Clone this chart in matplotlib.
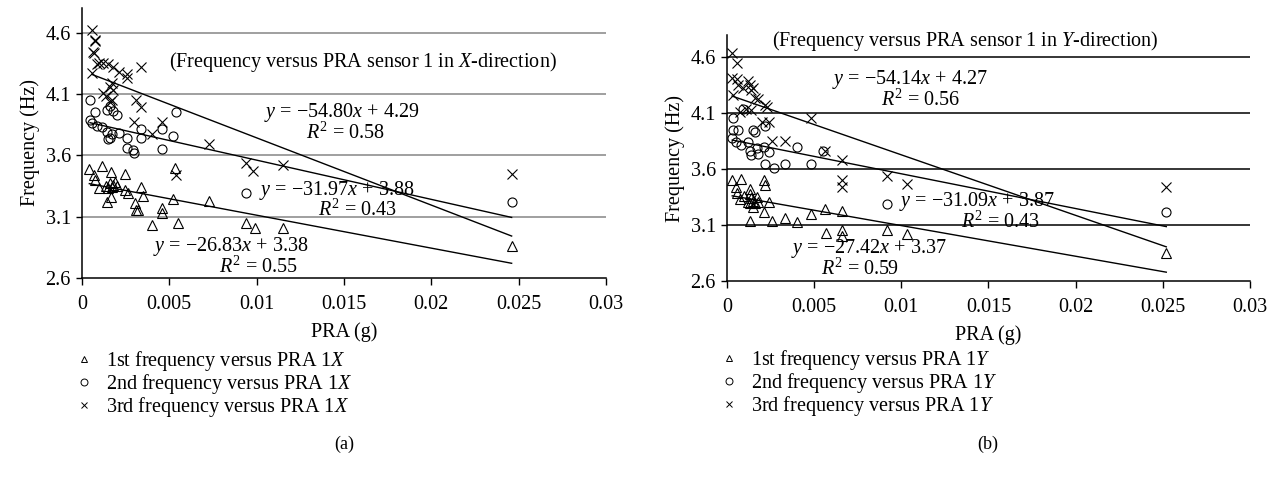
import matplotlib
matplotlib.use("Agg")
import matplotlib.pyplot as plt
from matplotlib.lines import Line2D

plt.rcParams['font.family'] = ['Liberation Serif', 'DejaVu Serif']
plt.rcParams['mathtext.fontset'] = 'custom'
plt.rcParams['mathtext.rm'] = 'Liberation Serif'
plt.rcParams['mathtext.it'] = 'Liberation Serif:italic'
plt.rcParams['font.size'] = 14

# --- (a) PRA sensor 1, X-direction ---
x1a = [0.00042, 0.00115, 0.00067, 0.00076, 0.00095, 0.00168, 0.0014, 0.0015, 0.0016, 0.0017,
       0.0018, 0.0019, 0.002, 0.00143, 0.00168, 0.00248, 0.00248, 0.00263, 0.00305, 0.0031,
       0.0032, 0.0034, 0.0035, 0.0040, 0.0046, 0.0046, 0.0053, 0.0052, 0.0055, 0.0073,
       0.0094, 0.0099, 0.0115, 0.0246]
y1a = [3.49, 3.51, 3.44, 3.40, 3.33, 3.46, 3.35, 3.33, 3.37, 3.34,
       3.36, 3.38, 3.35, 3.22, 3.26, 3.45, 3.32, 3.29, 3.21, 3.15,
       3.15, 3.34, 3.27, 3.03, 3.17, 3.13, 3.50, 3.24, 3.05, 3.23,
       3.05, 3.01, 3.01, 2.86]
x2a = [0.00046, 0.00074, 0.00046, 0.00057, 0.00086, 0.00115, 0.00143, 0.00172, 0.0016, 0.0015,
       0.00143, 0.0016, 0.0018, 0.002, 0.0021, 0.0026, 0.0026, 0.0029, 0.003, 0.0034,
       0.0034, 0.0046, 0.0046, 0.0052, 0.0054, 0.0094, 0.0246]
y2a = [4.05, 3.95, 3.89, 3.86, 3.84, 3.83, 3.79, 3.77, 3.74, 3.73,
       3.97, 4.00, 3.96, 3.93, 3.78, 3.74, 3.66, 3.64, 3.62, 3.81,
       3.74, 3.81, 3.65, 3.76, 3.95, 3.29, 3.22]
x3a = [0.00057, 0.00074, 0.00074, 0.00063, 0.00068, 0.00057, 0.00086, 0.001, 0.0012, 0.0015,
       0.0018, 0.0021, 0.0026, 0.0026, 0.0034, 0.0017, 0.0016, 0.0018, 0.0012, 0.0014,
       0.0017, 0.0016, 0.0031, 0.0034, 0.003, 0.004, 0.0046, 0.0054, 0.0073, 0.0094,
       0.0098, 0.0115, 0.0246]
y3a = [4.62, 4.54, 4.53, 4.44, 4.43, 4.27, 4.34, 4.35, 4.35, 4.34,
       4.32, 4.28, 4.26, 4.23, 4.32, 4.19, 4.16, 4.13, 4.11, 4.08,
       4.05, 4.03, 4.05, 3.99, 3.87, 3.77, 3.87, 3.44, 3.69, 3.54,
       3.47, 3.52, 3.45]
fit_a = [(-26.83, 3.38, 0.55), (-31.97, 3.88, 0.43), (-54.80, 4.29, 0.58)]

# --- (b) PRA sensor 1, Y-direction ---
x1b = [0.0003, 0.0008, 0.0005, 0.0006, 0.00075, 0.001, 0.0012, 0.0013, 0.0014, 0.0015,
       0.0016, 0.0017, 0.0018, 0.0013, 0.0013, 0.0015, 0.0021, 0.0022, 0.0021, 0.0024,
       0.0013, 0.0026, 0.0033, 0.004, 0.0048, 0.0056, 0.0066, 0.0057, 0.0066, 0.0066,
       0.0092, 0.0103, 0.0252]
y1b = [3.50, 3.51, 3.44, 3.39, 3.33, 3.36, 3.31, 3.30, 3.34, 3.32,
       3.30, 3.35, 3.31, 3.42, 3.38, 3.26, 3.50, 3.46, 3.22, 3.31,
       3.14, 3.14, 3.16, 3.13, 3.20, 3.24, 3.23, 3.03, 3.06, 3.00,
       3.06, 3.02, 2.85]
x2b = [0.00034, 0.00092, 0.00034, 0.00063, 0.0003, 0.0005, 0.0008, 0.0012, 0.0013, 0.0014,
       0.0015, 0.0016, 0.0017, 0.0018, 0.0021, 0.0022, 0.0024, 0.0022, 0.0027, 0.0033,
       0.004, 0.0048, 0.0055, 0.0092, 0.0252]
y2b = [4.06, 4.14, 3.95, 3.95, 3.88, 3.84, 3.82, 3.84, 3.76, 3.73,
       3.95, 3.93, 3.79, 3.74, 3.80, 3.99, 3.75, 3.65, 3.61, 3.65,
       3.80, 3.65, 3.76, 3.29, 3.22]
x3b = [0.00029, 0.00057, 0.00029, 0.00057, 0.00034, 0.00063, 0.00092, 0.0012, 0.0013, 0.0014,
       0.0015, 0.0016, 0.0018, 0.0022, 0.0023, 0.0014, 0.0011, 0.00075, 0.002, 0.0024,
       0.0048, 0.0026, 0.0033, 0.0056, 0.0066, 0.0066, 0.0066, 0.0092, 0.0103, 0.0252]
y3b = [4.64, 4.55, 4.42, 4.41, 4.26, 4.35, 4.33, 4.39, 4.35, 4.31,
       4.33, 4.24, 4.23, 4.17, 4.16, 4.13, 4.14, 4.11, 4.02, 4.02,
       4.06, 3.85, 3.85, 3.76, 3.68, 3.50, 3.44, 3.54, 3.47, 3.44]
fit_b = [(-27.42, 3.37, 0.59), (-31.09, 3.87, 0.43), (-54.14, 4.27, 0.56)]

xticks = [0, 0.005, 0.01, 0.015, 0.02, 0.025, 0.03]
xticklabels = ['0', '0.005', '0.01', '0.015', '0.02', '0.025', '0.03']
yticks = [2.6, 3.1, 3.6, 4.1, 4.6]
markers = ['^', 'o', 'x']
names = ['1st', '2nd', '3rd']
FS = 14.5


def panel(ax, series, fits, grid_color, title, title_xy, eq_pos, axis, leg_y):
    for yt in yticks[1:]:
        ax.axhline(yt, color=grid_color, lw=1.1, zorder=0)
    for (xs, ys), m in zip(series, markers):
        ax.plot(xs, ys, linestyle='none', marker=m, ms=6.5, mfc='none', mec='black', mew=0.8)
    for (xs, ys), (a, b, r2), ((ex, ey), (rx, ry)) in zip(series, fits, eq_pos):
        x0, x1 = min(xs), max(xs)
        ax.plot([x0, x1], [a * x0 + b, a * x1 + b], color='black', lw=1.0)
        sign = '\u2212' if a < 0 else ''
        ax.text(ex, ey, '$y$ = %s%.2f$x$ + %.2f' % (sign, abs(a), b), ha='center', va='center', fontsize=FS)
        ax.text(rx, ry, '$R^2$ = %.2f' % r2, ha='center', va='center', fontsize=FS)
    ax.text(title_xy[0], title_xy[1], title, ha='center', va='center', fontsize=FS)
    ax.set_xlim(0, 0.03)
    ax.set_ylim(2.6, 4.8)
    ax.set_xticks(xticks)
    ax.set_xticklabels(xticklabels)
    ax.set_yticks(yticks)
    ax.set_yticklabels([str(v) for v in yticks])
    ax.tick_params(axis='x', direction='out', length=5, width=1, pad=7, labelsize=FS)
    ax.tick_params(axis='y', direction='out', length=4, width=1, pad=4, labelsize=FS)
    for s in ['top', 'right']:
        ax.spines[s].set_visible(False)
    for s in ['left', 'bottom']:
        ax.spines[s].set_linewidth(1.1)
    ax.set_xlabel('PRA (g)', fontsize=FS, labelpad=6)
    ax.set_ylabel('Frequency (Hz)', fontsize=FS, labelpad=4)
    handles = [Line2D([], [], linestyle='none', marker=m, ms=5, mfc='none', mec='black', mew=0.7)
               for m in markers]
    labels = ['%s frequency versus PRA 1$%s$' % (n, axis) for n in names]
    ax.legend(handles, labels, loc='upper left', bbox_to_anchor=(-0.03, leg_y), frameon=False,
              fontsize=FS, handlelength=1.0, handletextpad=0.55, labelspacing=-0.05, borderaxespad=0)


fig = plt.figure(figsize=(12.73, 4.78), dpi=100)
ax1 = fig.add_axes([0.0644, 0.4184, 0.4116, 0.5649])
ax2 = fig.add_axes([0.5711, 0.4121, 0.4108, 0.5146])

panel(ax1, [(x1a, y1a), (x2a, y2a), (x3a, y3a)], fit_a, '#858585',
      '(Frequency versus PRA sensor 1 in $X$-direction)', (0.0161, 4.36),
      [((0.00853, 2.86), (0.0101, 2.69)), ((0.0146, 3.31), (0.0158, 3.15)),
       ((0.01485, 3.95), (0.0151, 3.78))], 'X', -0.233)
panel(ax2, [(x1b, y1b), (x2b, y2b), (x3b, y3b)], fit_b, 'black',
      '(Frequency versus PRA sensor 1 in $Y$-direction)', (0.01365, 4.75),
      [((0.00814, 2.89), (0.00763, 2.71)), ((0.01433, 3.31), (0.0157, 3.13)),
       ((0.0105, 4.40), (0.0111, 4.22))], 'Y', -0.24)

fig.text(344 / 1273, 1 - 444 / 478, '(a)', ha='center', va='center', fontsize=13)
fig.text(988 / 1273, 1 - 444 / 478, '(b)', ha='center', va='center', fontsize=13)

fig.savefig('out.png', dpi=100)
